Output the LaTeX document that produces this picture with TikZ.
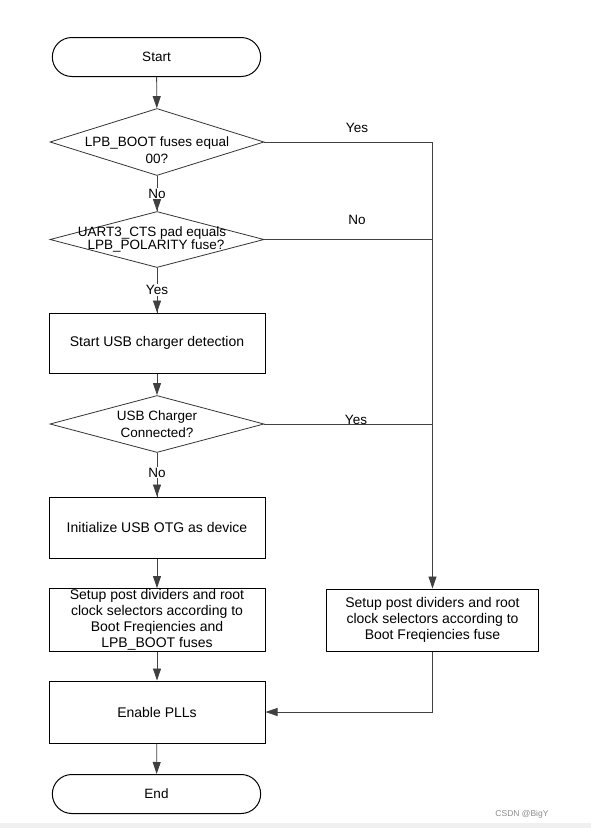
\documentclass[tikz,border=0pt]{standalone}
\usepackage{fontspec}
\setmainfont{Liberation Sans}
\usetikzlibrary{arrows.meta,positioning,shapes.geometric,shapes.misc}

\begin{document}
\begin{tikzpicture}[x=1pt,y=-1pt,
	every node/.style={font=\fontsize{13.5}{16.5}\selectfont},
	terminal/.style={draw,rounded rectangle,minimum width=215pt,minimum height=39pt,line width=1pt},
	process/.style={draw,rectangle,align=center,minimum width=216pt,minimum height=61pt,line width=1pt,inner sep=1pt,font=\fontsize{14}{16}\selectfont},
	decision/.style={draw=black!80,diamond,minimum width=214pt,inner sep=0pt,line width=0.8pt},
	flow/.style={draw=black!75,line width=0.8pt,-{Triangle[length=12pt,width=8pt]}},
	link/.style={draw=black!75,line width=0.8pt},
	answer/.style={fill=white,inner sep=1pt}
]
\useasboundingbox (0,0) rectangle (591,828);
\fill[black!6] (0,823) rectangle (591,828);

% left column
\node[terminal] (start) at (156.5,57) {Start};
\node[decision,minimum height=67pt,
	label={[align=center,yshift=-8pt]center:LPB\_BOOT fuses equal\\00?}] (boot) at (157,142) {};
\node[decision,minimum height=56pt,
	label={[align=center,xshift=-5pt,font=\fontsize{13.5}{12}\selectfont]center:UART3\_CTS pad equals\\\hspace*{8pt}LPB\_POLARITY fuse?}] (pol) at (157,239.5) {};
\node[process,minimum height=60pt] (detect) at (157,343) {Start USB charger detection};
\node[decision,minimum height=57pt,
	label={[align=center]center:USB Charger\\Connected?}] (charger) at (157,424) {};
\node[process] (otg) at (157,527.5) {Initialize USB OTG as device};
\node[process] (setupl) at (157,620) {Setup post dividers and root\\clock selectors according to\\Boot Freqiencies and\\LPB\_BOOT fuses};
\node[process,minimum height=62pt] (pll) at (157,712) {Enable PLLs};
\node[terminal] (end) at (156.5,794) {End};

% right column
\node[process,minimum width=212pt,minimum height=62pt] (setupr) at (432.5,620) {Setup post dividers and root\\clock selectors according to\\Boot Freqiencies fuse};

% main path
\draw[flow] (start) -- (boot);
\draw[link] (boot) -- node[answer] (no1) {No} (pol);
\draw[flow] (no1) -- (pol);
\draw[link] (pol) -- node[answer] (yes1) {Yes} (detect);
\draw[flow] (yes1) -- (detect);
\draw[flow] (detect) -- (charger);
\draw[link] (charger) -- node[answer,pos=0.45] (no2) {No} (otg);
\draw[flow] (no2) -- (otg);
\draw[flow] (otg) -- (setupl);
\draw[flow] (setupl) -- (pll);
\draw[flow] (pll) -- (end);

% branches to the right
\draw[flow] (boot.east) -- (boot.east -| setupr.north) -- (setupr.north);
\draw[link] (pol.east) -- (pol.east -| setupr.north);
\draw[link] (charger.east) -- (charger.east -| setupr.north);
\draw[flow] (setupr.south) |- (pll.east);

\node (yes2) at (357,128) {Yes};
\node (no3) at (357,220) {No};
\node (yes3) at (356,420) {Yes};

\node[text=black!45,font=\fontsize{8.5}{9}\selectfont] (mark) at (522,814) {CSDN @BigY};
\end{tikzpicture}
\end{document}
